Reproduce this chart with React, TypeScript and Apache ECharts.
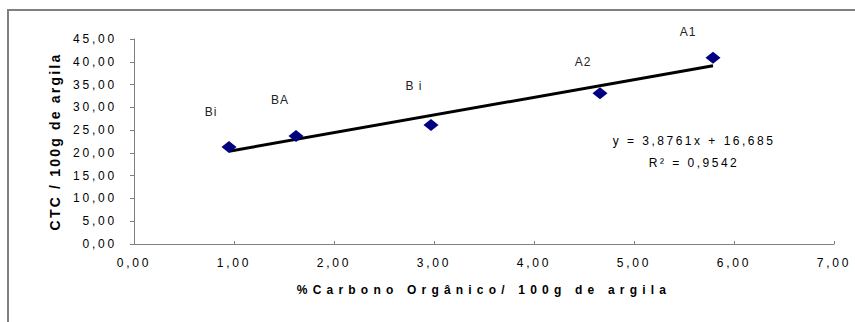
import React, { useEffect, useRef } from "react";
import * as echarts from "echarts";

const horizonNames = ["Bi", "BA", "B i", "A2", "A1"];
const carbonoOrganico = [0.95, 1.62, 2.97, 4.66, 5.79];
const ctc = [21.3, 23.7, 26.1, 33.1, 40.9];
const labelOffsets: [number, number][] = [
  [-18, -35],
  [-16, -36],
  [-17, -39],
  [-17, -31],
  [-25, -26],
];
const trendSlope = 3.8761;
const trendIntercept = 16.685;
const r2 = 0.9542;
const xTitle = "%Carbono Orgânico/ 100g de argila";
const yTitle = "CTC / 100g de argila";

const fmt = (v: number, d = 2) => v.toFixed(d).replace(".", ",");

export default function App() {
  const ref = useRef<HTMLDivElement>(null);
  useEffect(() => {
    if (!ref.current) return;
    const el = ref.current;
    const chart = echarts.init(el, undefined, { renderer: "svg" });
    const xMin = Math.min(...carbonoOrganico);
    const xMax = Math.max(...carbonoOrganico);
    const font = "'Liberation Sans', Arial, sans-serif";
    const xTickLabels = new Set<string>();
    const yTickLabels = new Set<string>();
    chart.setOption({
      animation: false,
      backgroundColor: "#ffffff",
      grid: { left: 134, right: 21, top: 39, bottom: 78 },
      xAxis: {
        type: "value",
        min: 0,
        max: 7,
        interval: 1,
        name: xTitle,
        nameLocation: "middle",
        nameGap: 40,
        nameTextStyle: { fontFamily: font, fontWeight: "bold", fontSize: 12, color: "#000" },
        axisLine: { lineStyle: { color: "#808080", width: 1 } },
        axisTick: { show: true, inside: true, length: 3, lineStyle: { color: "#808080" } },
        axisLabel: {
          formatter: (v: number) => {
            const s = fmt(v);
            xTickLabels.add(s);
            return s;
          },
          fontFamily: font,
          fontSize: 12,
          color: "#000",
          margin: 13,
        },
        splitLine: { show: false },
      },
      yAxis: {
        type: "value",
        min: 0,
        max: 45,
        interval: 5,
        name: yTitle,
        nameLocation: "middle",
        nameGap: 72,
        nameRotate: 90,
        nameTextStyle: { fontFamily: font, fontWeight: "bold", fontSize: 14, color: "#000" },
        axisLine: { show: true, lineStyle: { color: "#808080", width: 1 } },
        axisTick: { show: true, length: 4, lineStyle: { color: "#808080" } },
        axisLabel: {
          formatter: (v: number) => {
            const s = fmt(v);
            yTickLabels.add(s);
            return s;
          },
          fontFamily: font,
          fontSize: 12,
          color: "#000",
          margin: 17,
        },
        splitLine: { show: false },
      },
      graphic: [
        {
          type: "polyline",
          shape: { points: [[8, 330], [8, 10], [860, 10]] },
          style: { stroke: "#808080", lineWidth: 2, fill: "none" },
          silent: true,
        },
        {
          type: "text",
          x: 694,
          y: 141,
          style: {
            text: `y = ${fmt(trendSlope, 4)}x + ${fmt(trendIntercept, 3)}`,
            fontFamily: font,
            fontSize: 12,
            fill: "#000",
            align: "center",
            verticalAlign: "middle",
          },
        },
        {
          type: "text",
          x: 694,
          y: 163,
          style: {
            text: `R² = ${fmt(r2, 4)}`,
            fontFamily: font,
            fontSize: 12,
            fill: "#000",
            align: "center",
            verticalAlign: "middle",
          },
        },
      ],
      series: [
        {
          type: "line",
          data: [
            [xMin, trendSlope * xMin + trendIntercept],
            [xMax, trendSlope * xMax + trendIntercept],
          ],
          symbol: "none",
          lineStyle: { color: "#000", width: 3 },
          silent: true,
          z: 2,
        },
        {
          type: "scatter",
          data: carbonoOrganico.map((x, i) => ({
            value: [x, ctc[i]],
            name: horizonNames[i],
            label: { offset: labelOffsets[i] },
          })),
          symbol: "diamond",
          symbolSize: [15, 12],
          itemStyle: { color: "#000080", opacity: 1 },
          label: {
            show: true,
            position: "inside",
            formatter: (p: any) => p.name,
            fontFamily: font,
            fontSize: 12,
            color: "#222",
          },
          z: 3,
        },
      ],
    });
    const pointLabels = new Set(horizonNames);
    const applySpacing = () => {
      el.querySelectorAll("text").forEach((t) => {
        const s = t.textContent || "";
        let sp = "2.5px";
        if (s === xTitle) sp = "5.2px";
        else if (s === yTitle) sp = "2.2px";
        else if (pointLabels.has(s)) sp = "1px";
        else if (xTickLabels.has(s) || yTickLabels.has(s)) sp = "2.8px";
        t.setAttribute("letter-spacing", sp);
      });
    };
    applySpacing();
    chart.on("rendered", applySpacing);
    const tm = setTimeout(applySpacing, 50);
    return () => {
      clearTimeout(tm);
      chart.dispose();
    };
  }, []);
  return (
    <div
      ref={ref}
      style={{ position: "fixed", left: 0, top: 0, width: 855, height: 322 }}
    />
  );
}
